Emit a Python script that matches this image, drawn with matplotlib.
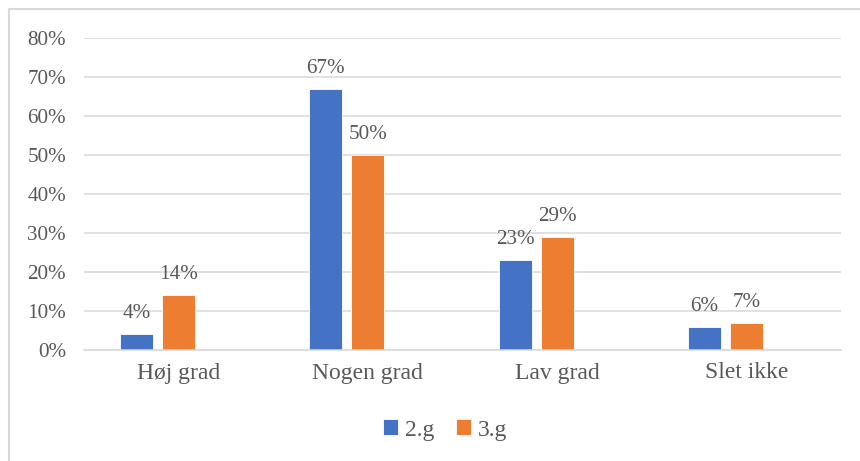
import numpy as np
from matplotlib import pyplot as plt
from matplotlib.lines import Line2D

categories = ['Høj grad', 'Nogen grad', 'Lav grad', 'Slet ikke']
series_names = ['2.g', '3.g']
g2_values = [4, 67, 23, 6]
g3_values = [14, 50, 29, 7]
yticks = [0, 10, 20, 30, 40, 50, 60, 70, 80]

plt.rcParams['font.family'] = ['Liberation Serif', 'DejaVu Serif']
txt = '#595959'
grid = '#d9d9d9'

fig = plt.figure(figsize=(8.6, 4.61), dpi=100)
ax = fig.add_axes([84/860, 1 - 350/461, (841 - 84)/860, (350 - 38)/461])

x = np.arange(len(categories))
w = 0.174
step = 0.222
b1 = ax.bar(x - step, g2_values, w, color='#4472C4', edgecolor='white', linewidth=0.6, label=series_names[0])
b2 = ax.bar(x, g3_values, w, color='#ED7D31', edgecolor='white', linewidth=0.6, label=series_names[1])

for bars, vals in [(b1, g2_values), (b2, g3_values)]:
    for r, v in zip(bars, vals):
        ax.annotate('%d%%' % v, (r.get_x() + r.get_width() / 2, v),
                    xytext=(0, 11.5), textcoords='offset points',
                    ha='center', va='baseline', fontsize=15.2, color=txt)

ax.set_xlim(-0.5, len(categories) - 0.5)
ax.set_ylim(0, 80)
ax.set_yticks(yticks)
ax.set_yticklabels(['%d%%' % t for t in yticks], fontsize=15.2, color=txt)
ax.set_xticks(x)
ax.set_xticklabels(categories, fontsize=17, color=txt)
ax.tick_params(axis='both', length=0)
ax.tick_params(axis='y', pad=13)
ax.tick_params(axis='x', pad=9)

ax.grid(axis='y', color=grid, linewidth=1.1)
ax.set_axisbelow(True)
for s in ['top', 'right', 'left']:
    ax.spines[s].set_visible(False)
ax.spines['bottom'].set_color(grid)
ax.spines['bottom'].set_linewidth(1.1)

leg = fig.legend(handles=[b1, b2], labels=series_names, loc='center',
                 bbox_to_anchor=(445/860, 1 - 430/461), ncol=2, frameon=False,
                 fontsize=17, handlelength=0.65, handleheight=0.65,
                 handletextpad=0.3, columnspacing=0.9)
for t in leg.get_texts():
    t.set_color(txt)

# outer chart frame (top and left edges only)
fig.add_artist(Line2D([9/860, 1], [1 - 9/461, 1 - 9/461], color=grid, linewidth=1.5, transform=fig.transFigure))
fig.add_artist(Line2D([9/860, 9/860], [0, 1 - 9/461], color=grid, linewidth=1.5, transform=fig.transFigure))

fig.savefig('out.png', dpi=100)
